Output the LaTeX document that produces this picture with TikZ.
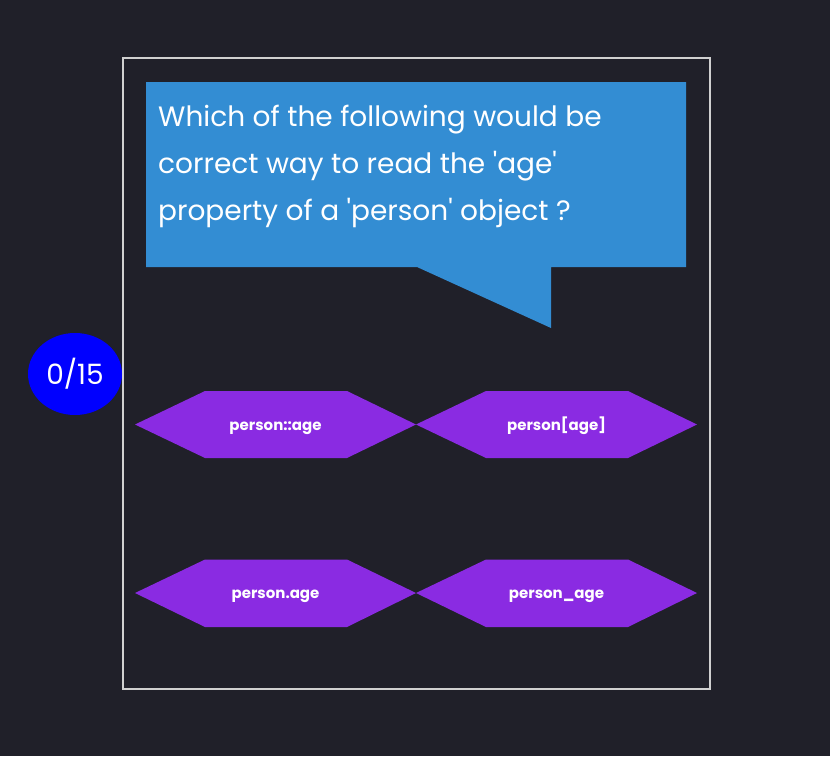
\documentclass[tikz,border=0pt]{standalone}
\usepackage{fontspec}
\setmainfont{Poppins}[Ligatures=TeXOff]
\definecolor{bg}{HTML}{202029}
\definecolor{callout}{HTML}{338DD3}
\definecolor{hexfill}{HTML}{8A2BE2}
\definecolor{framecol}{HTML}{D0D0D0}
\begin{document}
\begin{tikzpicture}[x=1pt,y=-1pt,
  qtext/.style={text=white,font=\fontsize{28}{32}\selectfont,anchor=base west,inner sep=0},
  hexlabel/.style={text=white,font=\bfseries\fontsize{15}{18}\selectfont,inner sep=0,anchor=base},
  hexshape/.style={fill=hexfill,draw=none}]
\fill[bg] (0,0) rectangle (830,756);
\useasboundingbox (0,0) rectangle (830,756);
% frame
\draw[framecol,line width=1.5pt] (123,58) rectangle (710,689);
% callout
\fill[callout] (146,82) -- (686,82) -- (686,267) -- (551,267) -- (551,328) -- (417,267) -- (146,267) -- cycle;
\node[qtext] (q1) at (158,126) {Which of the following would be};
\node[qtext] (q2) at (158,173) {correct way to read the 'age'};
\node[qtext] (q3) at (158,220) {property of a 'person' object ?};
% score
\fill[blue] (75,374) ellipse [x radius=47, y radius=41];
\node[text=white,font=\fontsize{28}{32}\selectfont,inner sep=0] (score) at (75,374) {0/15};
% hexagons
\fill[hexshape] (135,424.5) -- (205,391) -- (347,391) -- (416,424.5) -- (347,458) -- (205,458) -- cycle;
\node[hexlabel] (a1) at (275.5,430) {person::age};
\fill[hexshape] (416,424.5) -- (486,391) -- (628,391) -- (697,424.5) -- (628,458) -- (486,458) -- cycle;
\node[hexlabel] (a2) at (556.5,430) {person[age]};
\fill[hexshape] (135,593) -- (205,559.5) -- (347,559.5) -- (416,593) -- (347,627) -- (205,627) -- cycle;
\node[hexlabel] (a3) at (275.5,598.5) {person.age};
\fill[hexshape] (416,593) -- (486,559.5) -- (628,559.5) -- (697,593) -- (628,627) -- (486,627) -- cycle;
\node[hexlabel] (a4) at (556.5,598.5) {person\_age};
\end{tikzpicture}
\end{document}
